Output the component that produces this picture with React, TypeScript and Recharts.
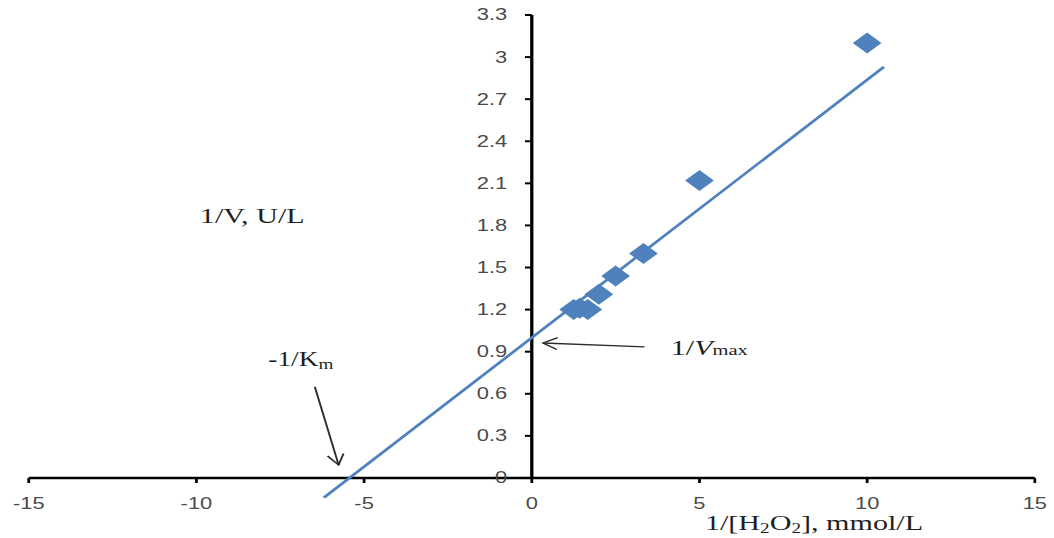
import React from 'react';
import { ComposedChart, XAxis, YAxis, Scatter, Line, ReferenceLine } from 'recharts';

// Lineweaver-Burk plot: 1/[H2O2] vs 1/V
const INV_S = [1.25, 1.43, 1.67, 2, 2.5, 3.33, 5, 10];
const INV_V = [1.2, 1.21, 1.2, 1.31, 1.44, 1.6, 2.12, 3.1];

// trend line ends (extrapolated back past the x intercept)
const TREND_X = [-6.2, 10.5];
const TREND_Y = [-0.14, 2.93];

const X_TICKS = [-15, -10, -5, 0, 5, 10, 15];
const Y_TICKS = [0, 0.3, 0.6, 0.9, 1.2, 1.5, 1.8, 2.1, 2.4, 2.7, 3, 3.3];
const Y_LABELS = ['0', '0.3', '0.6', '0.9', '1.2', '1.5', '1.8', '2.1', '2.4', '2.7', '3', '3.3'];

// arrows: [fromX, fromY, toX, toY] in data units
const KM_ARROW = [-6.47, 0.65, -5.76, 0.093];
const VMAX_ARROW = [3.36, 0.934, 0.335, 0.962];

const points = INV_S.map((x, i) => ({ x, y: INV_V[i] }));
const trend = TREND_X.map((x, i) => ({ x, y: TREND_Y[i] }));

// the chart is drawn narrow and stretched sideways
const W = 770;
const H = 538;
const STRETCH = 1054 / W;
const Y_AXIS_W = 20;
const X_AXIS_H = 30;
const M = { top: 15, right: 14, bottom: 2, left: 1 };
const PLOT_LEFT = M.left + Y_AXIS_W;
const PLOT_TOP = M.top;
const X_DOMAIN = [-15, 15];
const Y_DOMAIN = [-0.2, 3.3];
const PLOT_W = W - PLOT_LEFT - M.right;
const PLOT_H = H - M.top - M.bottom - X_AXIS_H;

const px = (v: number) => PLOT_LEFT + ((v - X_DOMAIN[0]) / (X_DOMAIN[1] - X_DOMAIN[0])) * PLOT_W;
const py = (v: number) => PLOT_TOP + ((Y_DOMAIN[1] - v) / (Y_DOMAIN[1] - Y_DOMAIN[0])) * PLOT_H;
const ZERO_X = px(0);
const ZERO_Y = py(0);

const BLUE = '#4f81bd';
const TICK_FONT = '"Liberation Sans", Arial, sans-serif';
const TICK_COLOR = '#4a4a4a';
const SERIF = '"Liberation Serif", "Times New Roman", serif';

const XTick = (props: any) => {
  const { x, payload } = props;
  return (
    <g>
      <line x1={x} x2={x} y1={ZERO_Y} y2={ZERO_Y + 5} stroke="#000" strokeWidth={2} />
      <text x={x} y={ZERO_Y + 31} textAnchor="middle" fontFamily={TICK_FONT} fontSize={16} fill={TICK_COLOR}>
        {payload.value}
      </text>
    </g>
  );
};

const YTick = (props: any) => {
  const { y, payload, index } = props;
  return (
    <g>
      <line x1={ZERO_X - 5} x2={ZERO_X} y1={y} y2={y} stroke="#000" strokeWidth={2} />
      <text x={ZERO_X - 18} y={y + 5.5} textAnchor="end" fontFamily={TICK_FONT} fontSize={16} fill={TICK_COLOR}>
        {Y_LABELS[index] ?? payload.value}
      </text>
    </g>
  );
};

const Diamond = (props: any) => {
  const { cx, cy } = props;
  const r = 10.5;
  return <polygon points={`${cx},${cy - r} ${cx + r},${cy} ${cx},${cy + r} ${cx - r},${cy}`} fill={BLUE} />;
};

const Arrow = ({ a }: { a: number[] }) => {
  const x1 = px(a[0]);
  const y1 = py(a[1]);
  const x2 = px(a[2]);
  const y2 = py(a[3]);
  const ang = Math.atan2(y2 - y1, x2 - x1);
  const len = 12;
  const spread = Math.PI / 6;
  const h1 = [x2 - len * Math.cos(ang - spread), y2 - len * Math.sin(ang - spread)];
  const h2 = [x2 - len * Math.cos(ang + spread), y2 - len * Math.sin(ang + spread)];
  return (
    <g stroke="#2b2b2b" strokeWidth={1.4} fill="none">
      <line x1={x1} y1={y1} x2={x2} y2={y2} />
      <polyline points={`${h1[0]},${h1[1]} ${x2},${y2} ${h2[0]},${h2[1]}`} />
    </g>
  );
};

export default function App() {
  return (
    <div
      style={{
        position: 'fixed',
        left: 0,
        top: 0,
        width: W,
        height: H,
        background: '#fff',
        transform: `scaleX(${STRETCH})`,
        transformOrigin: '0 0',
      }}
    >
      <ComposedChart width={W} height={H} margin={M}>
        <XAxis
          type="number"
          dataKey="x"
          domain={X_DOMAIN}
          ticks={X_TICKS}
          interval={0}
          height={X_AXIS_H}
          axisLine={false}
          tickLine={false}
          tick={(p: any) => <XTick {...p} />}
          allowDataOverflow
        />
        <YAxis
          type="number"
          dataKey="y"
          domain={Y_DOMAIN}
          ticks={Y_TICKS}
          interval={0}
          width={Y_AXIS_W}
          axisLine={false}
          tickLine={false}
          tick={(p: any) => <YTick {...p} />}
          allowDataOverflow
        />
        <ReferenceLine segment={[{ x: -15, y: 0 }, { x: 15, y: 0 }]} stroke="#000" strokeWidth={2.5} />
        <ReferenceLine segment={[{ x: 0, y: 0 }, { x: 0, y: 3.3 }]} stroke="#000" strokeWidth={2.4} />
        <Line
          data={trend}
          dataKey="y"
          type="linear"
          stroke={BLUE}
          strokeWidth={2.4}
          dot={false}
          isAnimationActive={false}
        />
        <Scatter data={points} dataKey="y" shape={(p: any) => <Diamond {...p} />} isAnimationActive={false} />

        <Arrow a={KM_ARROW} />
        <Arrow a={VMAX_ARROW} />

        <text x={146} y={223} fontFamily={SERIF} fontSize={22} fill="#1f1f1f">
          1/V, U/L
        </text>
        <text x={196} y={366} fontFamily={SERIF} fontSize={20} fill="#1f1f1f">
          -1/K<tspan fontSize={14} dy={3}>m</tspan>
        </text>
        <text x={490} y={355} fontFamily={SERIF} fontSize={22} fill="#1f1f1f">
          1/<tspan fontStyle="italic">V</tspan>
          <tspan fontSize={15}>max</tspan>
        </text>
        <text x={515} y={530} fontFamily={SERIF} fontSize={22} fill="#1f1f1f">
          1/[H<tspan fontSize={14} dy={3}>2</tspan>
          <tspan dy={-3}>O</tspan>
          <tspan fontSize={14} dy={3}>2</tspan>
          <tspan dy={-3}>], mmol/L</tspan>
        </text>
      </ComposedChart>
    </div>
  );
}
